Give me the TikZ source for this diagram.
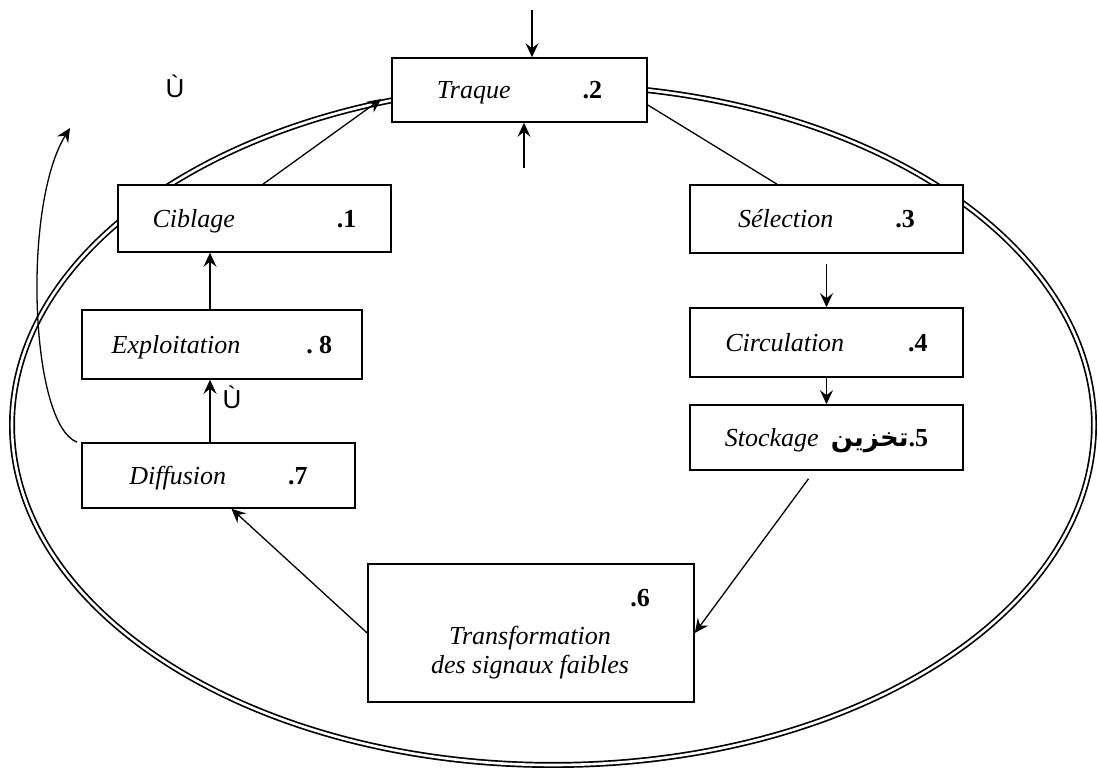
\documentclass[tikz,border=0pt]{standalone}
\usepackage{fontspec}
\setmainfont{Liberation Serif}
\newfontfamily\arabicfont[Script=Arabic]{DejaVu Sans}
\newfontfamily\latinsans{Liberation Sans}
\TeXXeTstate=1
\usetikzlibrary{arrows.meta}
\tikzset{
  stepbox/.style={draw, fill=white, line width=0.8pt, inner sep=0pt,
    text height=9pt, text depth=0pt, font=\fontsize{13}{15}\selectfont},
  flow/.style={-{Stealth[length=7pt,width=6.5pt,inset=2.5pt]}, line width=0.65pt},
  ring/.style={double, line width=0.85pt, double distance=1.3pt},
  mark letter/.style={font=\latinsans\fontsize{13}{15}\selectfont},
}
\begin{document}
\begin{tikzpicture}[x=0.5pt, y=-0.5pt]
\useasboundingbox (0,0) rectangle (1098,769);
% outer cycle
\draw[ring] (553,425) ellipse (541 and 340);
% steps
\node[stepbox, minimum width=127.5pt, minimum height=32pt] (traque) at (519.5,90) {\textit{Traque}\hspace{36pt}\textbf{.2}};
\node[stepbox, minimum width=136.5pt, minimum height=33.5pt] (ciblage) at (254.5,218.5) {\textit{Ciblage}\hspace{51pt}\textbf{.1}};
\node[stepbox, minimum width=136.5pt, minimum height=34pt] (selection) at (826.5,219) {\textit{Sélection}\hspace{31pt}\textbf{.3}};
\node[stepbox, minimum width=136.5pt, minimum height=34.5pt] (circulation) at (826.5,342.5) {\textit{Circulation}\hspace{32pt}\textbf{.4}};
\node[stepbox, minimum width=136.5pt, minimum height=32.5pt] (stockage) at (826.5,437.5) {\textit{Stockage}\hspace{6pt}{\arabicfont\bfseries\beginR تخزين\endR}\textbf{.5}};
\node[stepbox, minimum width=140pt, minimum height=34.5pt] (exploitation) at (222,344.5) {\textit{Exploitation}\hspace{33pt}\textbf{.\ 8}};
\node[stepbox, minimum width=136.5pt, minimum height=32.5pt] (diffusion) at (218.5,475.5) {\textit{Diffusion}\hspace{31pt}\textbf{.7}};
\node[stepbox, minimum width=163pt, minimum height=69pt] (transformation) at (531,633) {};
\node[font=\fontsize{13}{14.5}\selectfont\itshape, align=center] (transformationtext) at (530,653) {Transformation\\des signaux faibles};
\node[font=\fontsize{13}{15}\selectfont\bfseries] (num6) at (640,598) {.6};
% stray marks
\node[mark letter] (mark1) at (175,86) {Ù};
\node[mark letter] (mark2) at (232,397) {Ù};
% inputs to Traque
\coordinate (intop) at (532,10);
\coordinate (inbottom) at (524,168);
\draw[flow] (intop) -- (intop |- traque.north);
\draw[flow] (inbottom) -- (inbottom |- traque.south);
% cycle
\draw[flow] ([xshift=4.25pt]ciblage.north) -- ([xshift=-5pt,yshift=-4.5pt]traque.west);
\draw[line width=0.65pt] ([yshift=-7.5pt]traque.east) -- ([xshift=-24.75pt]selection.north);
\draw[flow] ([yshift=-5pt]selection.south) -- (circulation.north);
\draw[flow] (circulation.south) -- (stockage.north);
\draw[flow] ([xshift=-9pt,yshift=-4pt]stockage.south) -- (transformation.east);
\draw[flow] (transformation.west) -- ([xshift=6.5pt]diffusion.south);
\draw[flow] ([xshift=-4.25pt]diffusion.north) -- ([xshift=-4.25pt]diffusion.north |- exploitation.south);
\draw[flow] ([xshift=-6pt]exploitation.north) -- ([xshift=-6pt]exploitation.north |- ciblage.south);
% feedback
\coordinate (feedback) at (70,128);
\draw[flow] ([xshift=-2pt]diffusion.north west) .. controls (30,425) and (22,205) .. (feedback);
\end{tikzpicture}
\end{document}
